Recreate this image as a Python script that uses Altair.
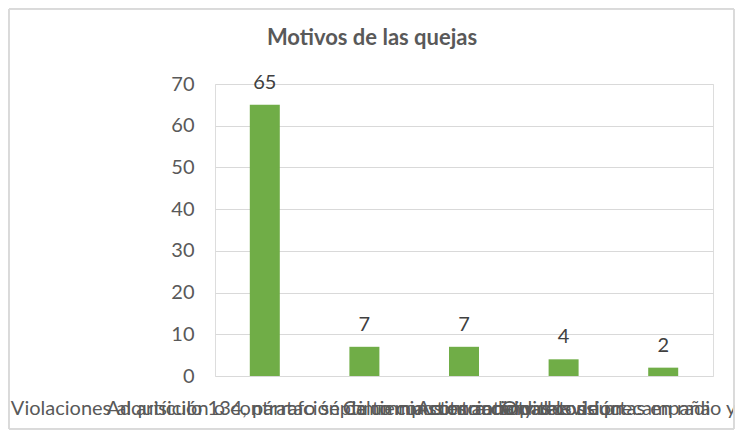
import altair as alt
import pandas as pd

motivos = [
    "Violaciones al artículo 134, párrafo séptimo constitucional",
    "Adquisición o contratación de tiempos en radio y televisión",
    "Calumnia contra candidatos",
    "Actos anticipados de precampaña",
    "Otras conductas en radio y televisión",
]
quejas = [65, 7, 7, 4, 2]

df = pd.DataFrame({"Motivo": motivos, "Quejas": quejas})

FONT = "Lato"
W, H = 498, 292

base = alt.Chart(df).encode(
    x=alt.X(
        "Motivo:N",
        sort=None,
        title=None,
        scale=alt.Scale(paddingInner=0, paddingOuter=0),
        axis=alt.Axis(
            labelAngle=0,
            labelOverlap=False,
            labelLimit=0,
            labelFontSize=20,
            labelColor="#595959",
            labelFont=FONT,
            labelPadding=22,
            domain=False,
            ticks=False,
            grid=False,
        ),
    ),
    y=alt.Y(
        "Quejas:Q",
        title=None,
        scale=alt.Scale(domain=[0, 70]),
        axis=alt.Axis(
            values=[0, 10, 20, 30, 40, 50, 60, 70],
            labelFontSize=20,
            labelColor="#595959",
            labelFont=FONT,
            labelPadding=21,
            domain=False,
            ticks=False,
            gridColor="#D9D9D9",
            gridWidth=1,
        ),
    ),
)

bars = base.mark_bar(size=30, color="#70AD47")
labels = base.mark_text(
    dy=-16, baseline="alphabetic", fontSize=20, font=FONT, color="#404040"
).encode(text="Quejas:Q")

border = alt.Chart(df).mark_rect(fill=None, stroke="#D9D9D9", strokeWidth=1).encode(
    x=alt.value(-206), x2=alt.value(519), y=alt.value(-75), y2=alt.value(345)
)

chart = (
    alt.layer(border, bars, labels)
    .properties(
        width=W,
        height=H,
        autosize=alt.AutoSizeParams(type="none"),
        padding={"left": 207, "top": 76, "right": 22, "bottom": 54},
        title=alt.Title(
            "Motivos de las quejas",
            fontSize=22,
            fontWeight="bold",
            font=FONT,
            color="#595959",
            anchor="middle",
            baseline="alphabetic",
            dx=-92,
            offset=-58,
        ),
    )
    .configure_view(stroke=None)
    .configure(background="white")
)

chart.save("out.html", embed_options={"renderer": "svg", "actions": False})
